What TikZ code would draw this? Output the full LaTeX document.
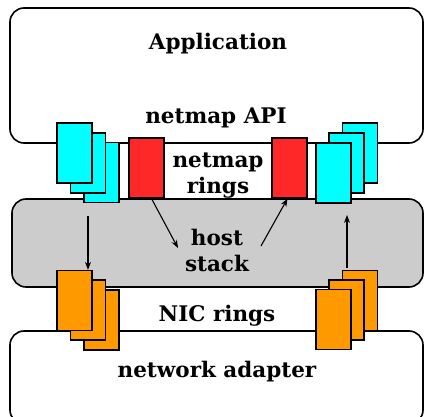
\documentclass[tikz,border=0pt]{standalone}
\usepackage{fontspec}
\setmainfont{DejaVu Serif}
\usetikzlibrary{arrows.meta}

\definecolor{ringcyan}{RGB}{0,255,255}
\definecolor{ringred}{RGB}{255,40,40}
\definecolor{ringorange}{RGB}{255,153,0}
\definecolor{hostgray}{RGB}{204,204,204}

\tikzset{
  layer/.style={draw=black, line width=1.6pt, rounded corners=14pt},
  ringbox/.style={draw=black, line width=1.2pt, minimum width=35pt, minimum height=60pt, inner sep=0pt},
  lbl/.style={font=\fontsize{21.5}{26}\selectfont\bfseries, align=center},
  flow/.style={-{Stealth[length=8pt,width=6pt]}, line width=1.1pt}
}

\begin{document}
\begin{tikzpicture}[x=1pt, y=-1pt]
  \useasboundingbox (0,0) rectangle (424,417);

  % layers
  \draw[layer, fill=white] (10,8) rectangle (423,143);
  \draw[layer, fill=hostgray] (12,199) rectangle (423,287);
  \draw[layer, fill=white] (10,331) rectangle (423,424);

  % labels
  \node[lbl] (app) at (218,44) {Application};
  \node[lbl] (api) at (216,118) {netmap API};
  \node[lbl] (nmrings) at (218,175.5) {netmap\\rings};
  \node[lbl] (host) at (217,250.5) {host\\stack};
  \node[lbl] (nicrings) at (217,316) {NIC rings};
  \node[lbl] (nic) at (217,372) {network adapter};

  % cyan rings, left stack (front on top)
  \node[ringbox, fill=ringcyan] (txc3) at (101.5,172.5) {};
  \node[ringbox, fill=ringcyan] (txc2) at (88,163) {};
  \node[ringbox, fill=ringcyan] (txc1) at (74.5,153) {};

  % cyan rings, right stack
  \node[ringbox, fill=ringcyan] (rxc3) at (360,153) {};
  \node[ringbox, fill=ringcyan] (rxc2) at (346.5,163) {};
  \node[ringbox, fill=ringcyan] (rxc1) at (333.5,173) {};

  % red host rings
  \node[ringbox, fill=ringred] (hr1) at (146.5,168) {};
  \node[ringbox, fill=ringred] (hr2) at (289.5,168) {};

  % orange NIC rings, left stack
  \node[ringbox, fill=ringorange] (txo3) at (101.5,320) {};
  \node[ringbox, fill=ringorange] (txo2) at (88,310) {};
  \node[ringbox, fill=ringorange] (txo1) at (74.5,300.5) {};

  % orange NIC rings, right stack
  \node[ringbox, fill=ringorange] (rxo3) at (360,300.5) {};
  \node[ringbox, fill=ringorange] (rxo2) at (346.5,310) {};
  \node[ringbox, fill=ringorange] (rxo1) at (333.5,319.5) {};

  % flows
  \coordinate (txin) at (88,216);
  \coordinate (hin) at (178,248);
  \coordinate (hout) at (261,246);
  \coordinate (rxout) at (347,268);
  \draw[flow] (txin) -- (txin |- txo1.north);
  \draw[flow] ([xshift=5pt]hr1.south) -- (hin);
  \draw[flow] (hout) -- ([xshift=-2pt]hr2.south);
  \draw[flow] (rxout) -- (rxout |- 0,215);
\end{tikzpicture}
\end{document}
